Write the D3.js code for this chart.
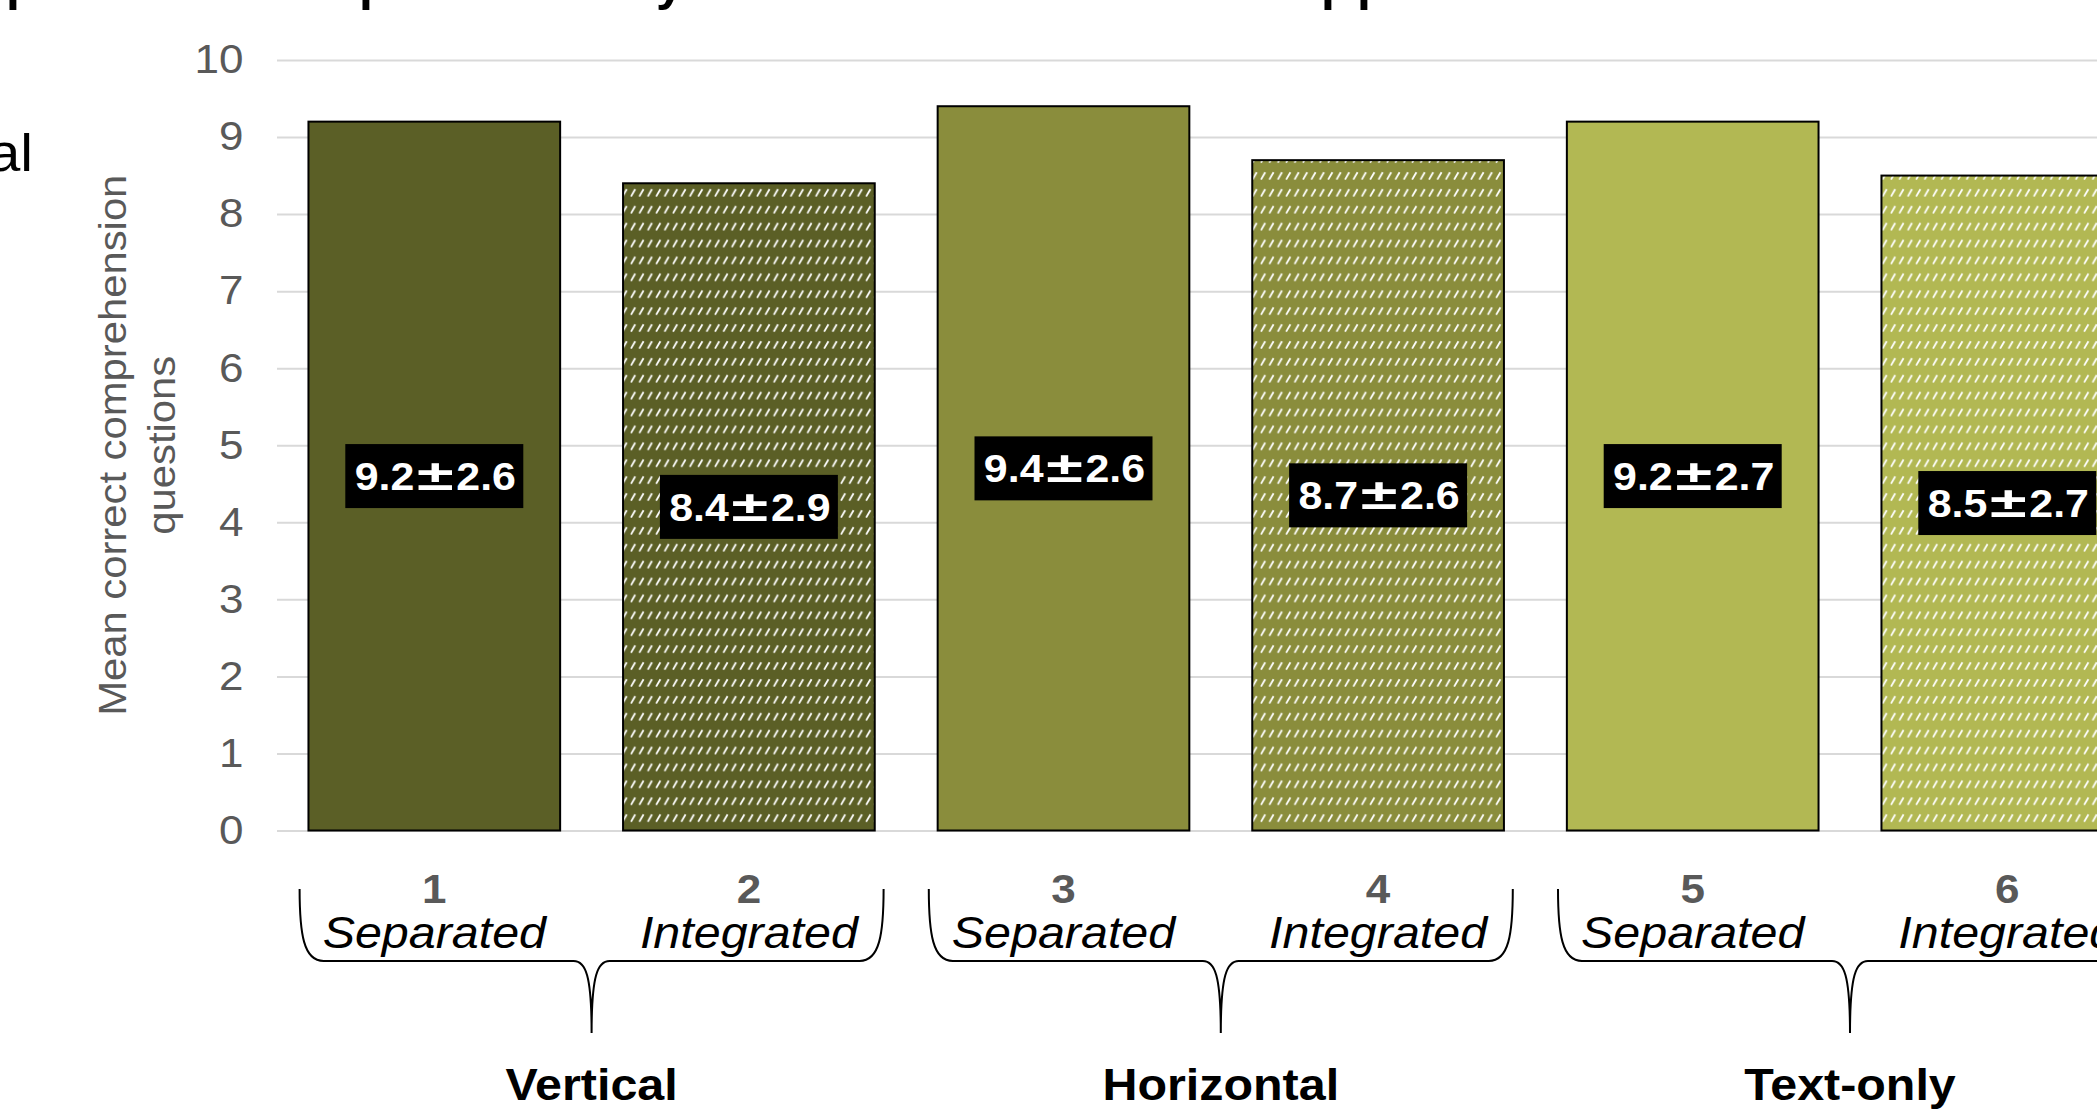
<!DOCTYPE html>
<html>
<head>
<meta charset="utf-8">
<script src="https://cdn.jsdelivr.net/npm/d3@7"></script>
<style>
  html, body { margin: 0; padding: 0; background: #fff; overflow: hidden; }
  svg { display: block; }
  text { font-family: "Liberation Sans", Arial, sans-serif; }
</style>
</head>
<body>
<svg id="chart" width="2097" height="1109"></svg>
<script>
// Mean number of correct comprehension answers per condition (mean ± SD)
const conditions = ["1", "2", "3", "4", "5", "6"];
const layouts = ["Separated", "Integrated", "Separated", "Integrated", "Separated", "Integrated"];
const groups = ["Vertical", "Horizontal", "Text-only"];
const groupOf = [0, 0, 1, 1, 2, 2];
const means = [9.2, 8.4, 9.4, 8.7, 9.2, 8.5];
const sds = [2.6, 2.9, 2.6, 2.6, 2.7, 2.7];
const yTicks = [0, 1, 2, 3, 4, 5, 6, 7, 8, 9, 10];
const yTitleLines = ["Mean correct comprehension", "questions"];

// colours per presentation group
const groupColors = ["#5b5f26", "#8a8d3c", "#b2b853"];

// layout
const W = 2097, H = 1109;
const plot = { left: 277, right: 2164.6, top: 60, bottom: 830.5 };
const SX = 1.1;              // slight horizontal widening of the lettering
const fmt = d3.format(".1f");

const svg = d3.select("#chart");
svg.append("rect").attr("width", W).attr("height", H).attr("fill", "#fff");

const x = d3.scaleBand().domain(conditions)
  .range([plot.left, plot.right]).paddingInner(0.2).paddingOuter(0.1);
const y = d3.scaleLinear().domain([0, 10]).range([plot.bottom, plot.top]);
const bw = x.bandwidth();

// dashed upward-diagonal fill used for the "Integrated" bars
const defs = svg.append("defs");
groupColors.forEach((c, i) => {
  const p = defs.append("pattern").attr("id", "hatch-" + i)
    .attr("patternUnits", "userSpaceOnUse").attr("width", 8.4).attr("height", 16.9)
    .attr("x", 0).attr("y", 2);
  p.append("rect").attr("width", 8.4).attr("height", 16.9).attr("fill", c);
  p.append("path").attr("d", "M1,8.6 L5.2,1.2").attr("stroke", "#fff")
    .attr("stroke-width", 1.8).attr("fill", "none");
});

// clipped title line above the plot
const titleGlyphs = ["p", "p", "y", "p", "p"];
const titleGlyphX = [6, 359, 656, 1321, 1357];
const title = svg.append("text").attr("y", 0).attr("fill", "#000")
  .style("font-size", "50px").style("font-weight", "bold");
titleGlyphs.forEach((g, i) => title.append("tspan").attr("x", titleGlyphX[i]).text(g));

// fragment of neighbouring text on the left
svg.append("text").text("al").attr("text-anchor", "end").attr("fill", "#000")
  .style("font-size", "52px")
  .attr("transform", `translate(33,171) scale(${SX},1)`);

// y axis with gridlines
const yAxis = d3.axisLeft(y).tickValues(yTicks)
  .tickSize(-(plot.right - plot.left)).tickFormat(d3.format("d"));
const gy = svg.append("g").attr("transform", `translate(${plot.left},0)`).call(yAxis);
gy.select(".domain").remove();
gy.selectAll(".tick line").attr("stroke", "#d9d9d9").attr("stroke-width", 2);
gy.selectAll(".tick text")
  .attr("x", null)
  .attr("text-anchor", "end")
  .attr("fill", "#595959")
  .style("font-size", "40px")
  .style("font-family", "'Liberation Sans', Arial, sans-serif")
  .attr("transform", `translate(-33.5,0) scale(${SX},1)`);

// y axis title (two lines, rotated)
const yMid = (plot.top + plot.bottom) / 2;
const yTitleX = [126, 175];
yTitleLines.forEach((t, i) => {
  svg.append("text").text(t).attr("text-anchor", "middle").attr("fill", "#595959")
    .style("font-size", "38px")
    .attr("transform", `translate(${yTitleX[i]},${yMid}) rotate(-90) scale(${SX},1)`);
});

// bars
svg.append("g").selectAll("rect").data(conditions).join("rect")
  .attr("x", d => x(d))
  .attr("y", (d, i) => y(means[i]))
  .attr("width", bw)
  .attr("height", (d, i) => y(0) - y(means[i]))
  .attr("fill", (d, i) => i % 2 === 0 ? groupColors[groupOf[i]] : `url(#hatch-${groupOf[i]})`)
  .attr("stroke", "#000").attr("stroke-width", 2);

// value labels: black box with mean ± SD
const lab = svg.append("g").selectAll("g").data(conditions).join("g")
  .attr("transform", (d, i) => `translate(${x(d) + bw / 2},${(y(means[i]) + y(0)) / 2})`);
lab.append("rect").attr("x", -89).attr("y", -32).attr("width", 178).attr("height", 64)
  .attr("fill", "#000");
const labStyle = s => s.attr("fill", "#fff").style("font-weight", "bold");
lab.append("text").call(labStyle).style("font-size", "39px").attr("text-anchor", "end")
  .attr("transform", `translate(-20,14) scale(1.1,1)`)
  .text((d, i) => fmt(means[i]));
lab.append("text").call(labStyle).style("font-size", "43px").attr("text-anchor", "middle")
  .attr("transform", `translate(1,14) scale(1.55,1)`)
  .text("±");
lab.append("text").call(labStyle).style("font-size", "39px").attr("text-anchor", "start")
  .attr("transform", `translate(22,14) scale(1.1,1)`)
  .text((d, i) => fmt(sds[i]));

// condition numbers and layout names under each bar
const cat = svg.append("g").selectAll("g").data(conditions).join("g")
  .attr("transform", d => `translate(${x(d) + bw / 2},0)`);
cat.append("text").text(d => d).attr("text-anchor", "middle").attr("fill", "#595959")
  .style("font-size", "40px").style("font-weight", "bold")
  .attr("transform", `translate(0,903) scale(${SX},1)`);
cat.append("text").text((d, i) => layouts[i]).attr("text-anchor", "middle").attr("fill", "#000")
  .style("font-size", "44px").style("font-style", "italic")
  .attr("transform", `translate(0,948) scale(${SX},1)`);

// group braces and group names
const groupMid = groups.map((g, gi) => {
  const members = conditions.filter((c, i) => groupOf[i] === gi);
  return d3.mean(members, c => x(c) + bw / 2);
});
const half = 292, yTop = 889, yLine = 961, yTip = 1033;
const bracePath = cx => {
  const x0 = cx - half, x1 = cx + half;
  return `M${x0},${yTop} C${x0},${yTop + 45} ${x0 + 4},${yLine} ${x0 + 24},${yLine}` +
    ` L${cx - 18},${yLine} C${cx - 6},${yLine} ${cx},${yLine + 14} ${cx},${yTip}` +
    ` C${cx},${yLine + 14} ${cx + 6},${yLine} ${cx + 18},${yLine}` +
    ` L${x1 - 24},${yLine} C${x1 - 4},${yLine} ${x1},${yTop + 45} ${x1},${yTop}`;
};
svg.append("g").selectAll("path").data(groupMid).join("path")
  .attr("d", d => bracePath(d)).attr("fill", "none")
  .attr("stroke", "#000").attr("stroke-width", 2);
svg.append("g").selectAll("text").data(groups).join("text")
  .text(d => d).attr("text-anchor", "middle").attr("fill", "#000")
  .style("font-size", "44px").style("font-weight", "bold")
  .attr("transform", (d, i) => `translate(${groupMid[i]},1100) scale(${SX},1)`);
</script>
</body>
</html>
